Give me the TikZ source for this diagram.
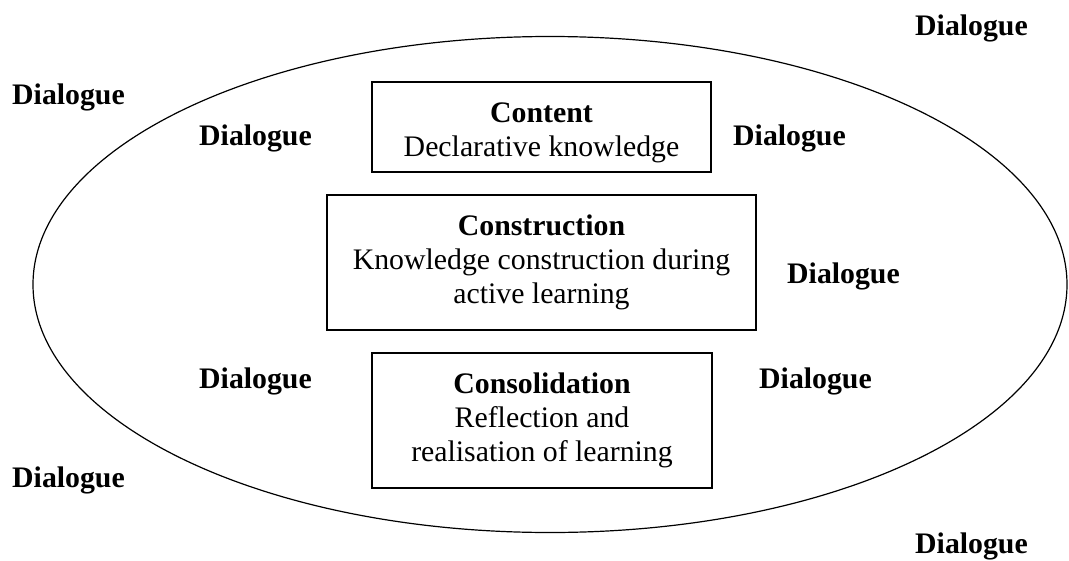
\documentclass[tikz,border=0pt]{standalone}
\usepackage{fontspec}
\setmainfont{Liberation Serif}
\begin{document}
\begin{tikzpicture}[x=1pt,y=-1pt,
  boxst/.style={draw, line width=1.2pt, inner sep=0pt},
  txt/.style={inner sep=0pt, align=center, font=\fontsize{29.8}{34}\selectfont},
  dlg/.style={inner sep=0pt, anchor=base west, font=\fontsize{29.8}{34}\selectfont\bfseries}]
\useasboundingbox (0,0) rectangle (1069,560);
\draw[line width=1.2pt] (550,284.5) ellipse [x radius=517, y radius=248];
\node[boxst, minimum width=339pt, minimum height=90pt] (content) at (541.5,127) {};
\node[txt] (contentT) at ([yshift=-6pt]content.center) {\textbf{Content}\\Declarative knowledge};
\node[boxst, minimum width=429pt, minimum height=135pt] (construction) at (541.5,262.5) {};
\node[txt] (constructionT) at (construction.center) {\textbf{Construction}\\Knowledge construction during\\active learning};
\node[boxst, minimum width=340pt, minimum height=135pt] (consolidation) at (542,420.5) {};
\node[txt] (consolidationT) at (consolidation.center) {\textbf{Consolidation}\\Reflection and\\realisation of learning};
\node[dlg] (d1) at (915,35) {Dialogue};
\node[dlg] (d2) at (12,104) {Dialogue};
\node[dlg] (d3) at (199,145) {Dialogue};
\node[dlg] (d4) at (733,145) {Dialogue};
\node[dlg] (d5) at (787,283) {Dialogue};
\node[dlg] (d6) at (199,388) {Dialogue};
\node[dlg] (d7) at (759,388) {Dialogue};
\node[dlg] (d8) at (12,487) {Dialogue};
\node[dlg] (d9) at (915,553) {Dialogue};
\end{tikzpicture}
\end{document}
